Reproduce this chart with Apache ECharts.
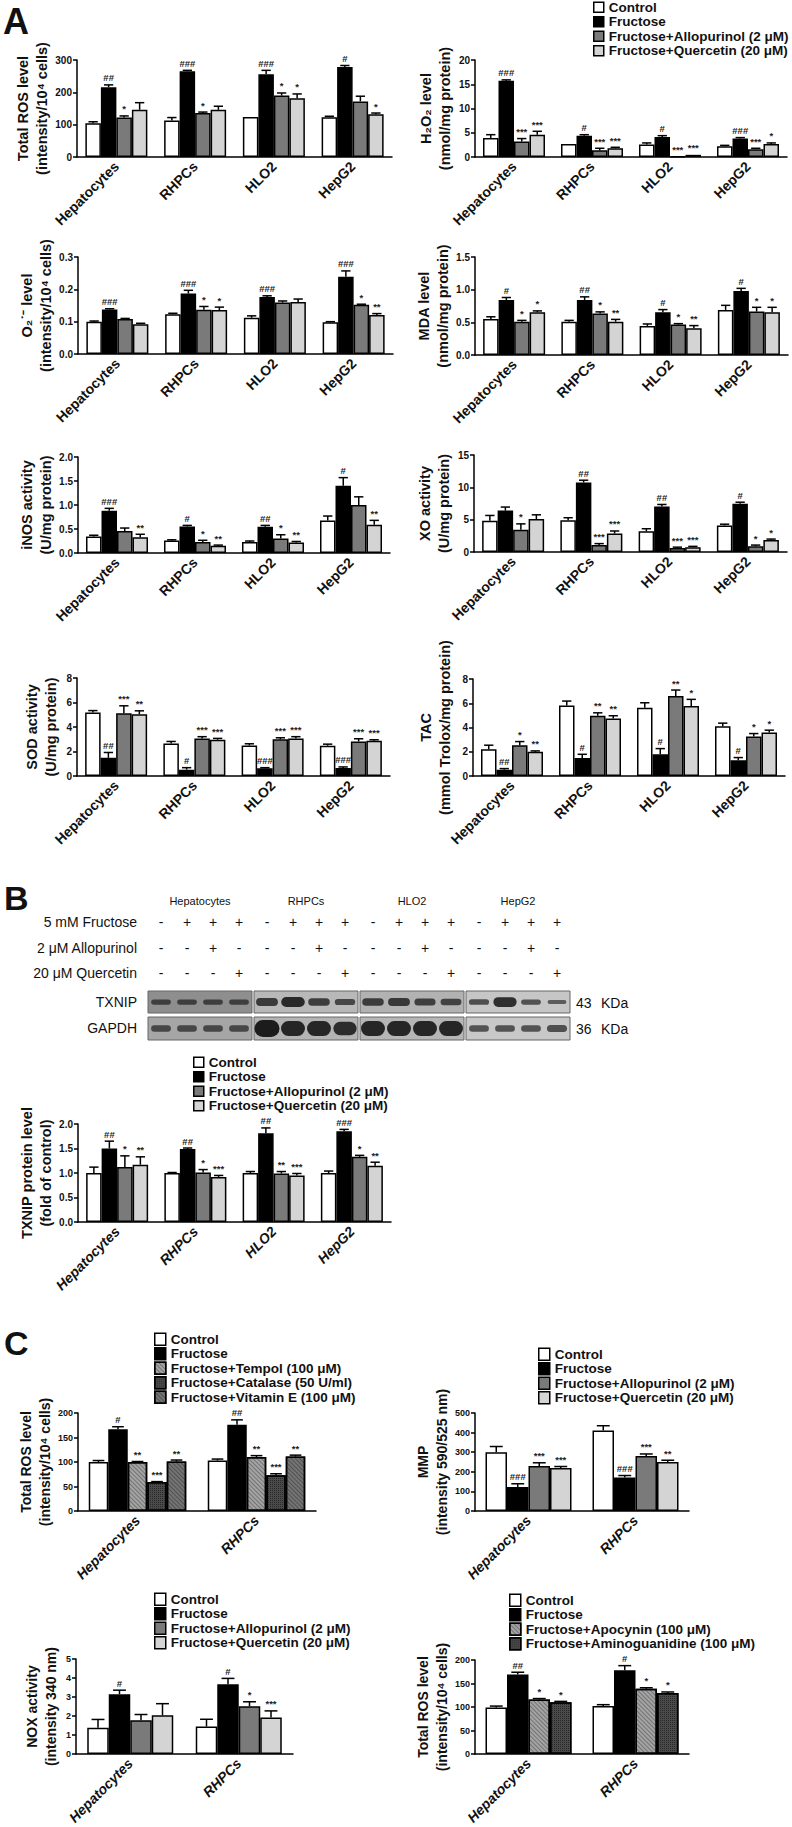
<!DOCTYPE html>
<html>
<head>
<meta charset="utf-8">
<script src="https://cdn.jsdelivr.net/npm/echarts@6/dist/echarts.min.js"></script>
<style>
  html, body { margin: 0; padding: 0; background: #fff; }
  #fig { width: 792px; height: 1827px; }
</style>
</head>
<body>
<div id="fig"></div>
<script>
// ---- categories / groups ----
const cellsA = ['Hepatocytes', 'RHPCs', 'HLO2', 'HepG2'];
const cellsC = ['Hepatocytes', 'RHPCs'];
const groupsA = ['Control', 'Fructose', 'Fructose+Allopurinol (2 μM)', 'Fructose+Quercetin (20 μM)'];
const groupsC1 = ['Control', 'Fructose', 'Fructose+Tempol (100 μM)', 'Fructose+Catalase (50 U/ml)', 'Fructose+Vitamin E (100 μM)'];
const groupsC4 = ['Control', 'Fructose', 'Fructose+Apocynin (100 μM)', 'Fructose+Aminoguanidine (100 μM)'];

// ---- A: total ROS ----  (rows = groups, cols = cells)
const rosAxis = [0, 300, 100];
const rosMean = [[104, 113, 124, 123], [216, 265, 256, 278], [122, 136, 190, 172], [146, 146, 182, 132]];
const rosErr = [[5, 9, 0, 3], [7, 3, 12, 5], [5, 3, 8, 16], [22, 11, 13, 4]];
const rosSig = [['', '', '', ''], ['##', '###', '###', '#'], ['*', '*', '*', ''], ['', '', '*', '*']];

// ---- A: H2O2 ----
const h2o2Axis = [0, 20, 5];
const h2o2Mean = [[3.9, 2.7, 2.6, 2.2], [15.7, 4.4, 4.1, 3.8], [3.2, 1.4, 0.15, 1.6], [4.6, 1.8, 0.45, 2.7]];
const h2o2Err = [[0.7, 0, 0.3, 0.2], [0.2, 0.2, 0.3, 0.2], [0.6, 0.4, 0, 0.2], [0.7, 0.2, 0, 0.2]];
const h2o2Sig = [['', '', '', ''], ['###', '#', '#', '###'], ['***', '***', '***', '***'], ['***', '***', '***', '*']];

// ---- A: superoxide ----
const o2Axis = [0, 0.3, 0.1];
const o2Mean = [[0.100, 0.123, 0.112, 0.098], [0.138, 0.187, 0.176, 0.239], [0.108, 0.137, 0.159, 0.152], [0.092, 0.136, 0.161, 0.121]];
const o2Err = [[0.002, 0.003, 0.006, 0.002], [0.002, 0.010, 0.004, 0.018], [0.002, 0.010, 0.005, 0.002], [0.003, 0.009, 0.009, 0.004]];
const o2Sig = [['', '', '', ''], ['###', '###', '###', '###'], ['', '*', '', '*'], ['', '*', '', '**']];

// ---- A: MDA ----
const mdaAxis = [0, 1.5, 0.5];
const mdaMean = [[0.55, 0.51, 0.445, 0.69], [0.84, 0.84, 0.655, 0.98], [0.51, 0.635, 0.465, 0.665], [0.655, 0.51, 0.41, 0.655]];
const mdaErr = [[0.035, 0.02, 0.03, 0.07], [0.04, 0.05, 0.04, 0.04], [0.02, 0.025, 0.015, 0.065], [0.02, 0.035, 0.04, 0.075]];
const mdaSig = [['', '', '', ''], ['#', '##', '#', '#'], ['*', '*', '*', '*'], ['*', '**', '**', '*']];

// ---- A: iNOS ----
const inosAxis = [0, 2, 0.5];
const inosMean = [[0.345, 0.26, 0.23, 0.675], [0.88, 0.55, 0.545, 1.40], [0.46, 0.23, 0.30, 1.00], [0.33, 0.15, 0.22, 0.59]];
const inosErr = [[0.025, 0.015, 0.02, 0.095], [0.05, 0.025, 0.03, 0.17], [0.06, 0.035, 0.08, 0.17], [0.06, 0.015, 0.02, 0.09]];
const inosSig = [['', '', '', ''], ['###', '#', '##', '#'], ['', '*', '*', ''], ['**', '**', '**', '**']];

// ---- A: XO ----
const xoAxis = [0, 15, 5];
const xoMean = [[4.85, 4.9, 3.2, 4.1], [6.4, 10.75, 7.05, 7.45], [3.45, 1.1, 0.6, 0.87], [5.1, 2.85, 0.72, 1.85]];
const xoErr = [[0.8, 0.4, 0.4, 0.2], [0.55, 0.35, 0.3, 0.25], [0.9, 0.2, 0.15, 0.2], [0.65, 0.4, 0.15, 0.15]];
const xoSig = [['', '', '', ''], ['', '##', '##', '#'], ['*', '***', '***', '*'], ['', '***', '***', '*']];

// ---- A: SOD ----
const sodAxis = [0, 8, 2];
const sodMean = [[5.18, 2.66, 2.49, 2.47], [1.48, 0.52, 0.63, 0.66], [5.12, 3.07, 2.99, 2.82], [5.04, 2.96, 3.07, 2.88]];
const sodErr = [[0.16, 0.16, 0.14, 0.13], [0.44, 0.16, 0.05, 0.08], [0.61, 0.14, 0.13, 0.22], [0.28, 0.11, 0.14, 0.08]];
const sodSig = [['', '', '', ''], ['##', '#', '###', '###'], ['***', '***', '***', '***'], ['**', '***', '***', '***']];

// ---- A: TAC ----
const tacAxis = [0, 8, 2];
const tacMean = [[2.2, 5.82, 5.63, 4.11], [0.52, 1.49, 1.79, 1.3], [2.54, 4.97, 6.59, 3.26], [2.01, 4.74, 5.77, 3.59]];
const tacErr = [[0.34, 0.36, 0.41, 0.25], [0.09, 0.3, 0.47, 0.22], [0.3, 0.24, 0.5, 0.24], [0.06, 0.23, 0.55, 0.19]];
const tacSig = [['', '', '', ''], ['##', '#', '#', '#'], ['*', '**', '**', '*'], ['**', '**', '*', '*']];

// ---- B: TXNIP densitometry ----
const txnipAxis = [0, 2, 0.5];
const txnipMean = [[1.0, 1.0, 1.0, 1.0], [1.50, 1.49, 1.81, 1.85], [1.12, 1.01, 0.99, 1.33], [1.17, 0.92, 0.95, 1.15]];
const txnipErr = [[0.12, 0.01, 0.03, 0.04], [0.15, 0.02, 0.11, 0.04], [0.23, 0.06, 0.04, 0.03], [0.16, 0.03, 0.04, 0.07]];
const txnipSig = [['', '', '', ''], ['##', '##', '##', '###'], ['*', '*', '**', '*'], ['**', '***', '***', '**']];

// blot lane treatments and rough band strength (per cell line, per lane)
const fructoseLane = ['-', '+', '+', '+'];
const allopurinolLane = ['-', '-', '+', '-'];
const quercetinLane = ['-', '-', '-', '+'];
const txnipBand = [[0.25, 0.25, 0.25, 0.25], [0.55, 0.8, 0.5, 0.35], [0.5, 0.55, 0.45, 0.4], [0.3, 0.75, 0.25, 0.12]];
const gapdhBand = [[0.25, 0.25, 0.25, 0.25], [1.0, 0.85, 0.85, 0.75], [0.85, 0.85, 0.85, 0.85], [0.25, 0.25, 0.25, 0.3]];

// ---- C ----
const ros2Axis = [0, 200, 50];
const ros2Mean = [[100, 103], [167, 176], [100, 110], [59, 73], [101, 111]];
const ros2Err = [[3, 3], [5, 10], [1, 3], [1, 3], [3, 3]];
const ros2Sig = [['', ''], ['#', '##'], ['**', '**'], ['***', '***'], ['**', '**']];

const mmpAxis = [0, 500, 100];
const mmpMean = [[300, 411], [122, 171], [230, 281], [220, 250]];
const mmpErr = [[29, 24], [17, 10], [16, 10], [7, 9]];
const mmpSig = [['', ''], ['###', '###'], ['***', '***'], ['***', '**']];

const noxAxis = [0, 5, 1];
const noxMean = [[1.38, 1.45], [3.15, 3.67], [1.78, 2.51], [2.04, 1.92]];
const noxErr = [[0.44, 0.38], [0.21, 0.31], [0.3, 0.24], [0.61, 0.35]];
const noxSig = [['', ''], ['#', '#'], ['', '*'], ['', '***']];

const ros3Axis = [0, 200, 50];
const ros3Mean = [[99, 102], [169, 178], [116, 139], [110, 130]];
const ros3Err = [[3, 3], [5, 10], [2, 2], [2, 2]];
const ros3Sig = [['', ''], ['##', '#'], ['*', '*'], ['*', '*']];

// ---- styles ----
const fam = '"Liberation Sans", Arial, Helvetica, sans-serif';
const colorsA = ['#ffffff', '#000000', '#7a7a7a', '#d4d4d4'];
const colorsC1 = ['#ffffff', '#000000', '#a4a4a4', '#4a4a4a', '#747474'];
const colorsC4 = ['#ffffff', '#000000', '#a4a4a4', '#4a4a4a'];
const hatch = { symbol: 'rect', symbolSize: 1, dashArrayX: [1, 0], dashArrayY: [1, 2], rotation: Math.PI / 4, color: 'rgba(0,0,0,0.3)' };
const cross = { symbol: 'rect', symbolSize: 1, dashArrayX: [1, 1], dashArrayY: [1, 1], color: 'rgba(0,0,0,0.45)' };
const decalsC1 = [null, null, hatch, cross, hatch];
const decalsC4 = [null, null, hatch, cross];

const option = {
  animation: false,
  backgroundColor: '#fff',
  grid: [], xAxis: [], yAxis: [], series: [], legend: [],
  graphic: { elements: [] }
};

function errRender(n, bw, marks) {
  return function (params, api) {
    const cat = api.value(0), k = api.value(1), v = api.value(2), e = api.value(3);
    const p0 = api.coord([cat, v]);
    const p1 = api.coord([cat, v + e]);
    const x = p0[0] + (k - (n - 1) / 2) * bw;
    const kids = [];
    if (e > 0) {
      kids.push({ type: 'line', shape: { x1: x, y1: p0[1], x2: x, y2: p1[1] }, style: { stroke: '#000', lineWidth: 1.5 } });
      kids.push({ type: 'line', shape: { x1: x - bw * 0.3, y1: p1[1], x2: x + bw * 0.3, y2: p1[1] }, style: { stroke: '#000', lineWidth: 1.5 } });
    }
    const m = marks[params.dataIndex];
    if (m) {
      kids.push({ type: 'text', x: x, y: p1[1] - 2,
        style: { text: m, fill: '#222', font: 'bold 9.5px ' + fam, align: 'center', verticalAlign: 'bottom' } });
    }
    return { type: 'group', children: kids };
  };
}

function addPanel(p) {
  const gi = option.grid.length;
  const n = p.groups.length;
  option.grid.push({ left: p.box[0], top: p.box[1], width: p.box[2], height: p.box[3] });
  option.xAxis.push({
    gridIndex: gi, type: 'category', data: p.cats,
    axisLine: { lineStyle: { color: '#000', width: 1.5 } },
    axisTick: { show: false },
    axisLabel: { interval: 0, rotate: 45, margin: 7, color: '#111', fontFamily: fam, fontSize: 14,
      fontWeight: 'bold', fontStyle: p.italic ? 'italic' : 'normal' }
  });
  option.yAxis.push({
    gridIndex: gi, type: 'value', min: p.axis[0], max: p.axis[1], interval: p.axis[2],
    axisLine: { show: true, lineStyle: { color: '#000', width: 1.5 } },
    axisTick: { show: true, length: 4, lineStyle: { color: '#000', width: 1.5 } },
    splitLine: { show: false },
    axisLabel: { margin: 5, color: '#111', fontFamily: fam, fontSize: p.tick, fontWeight: 'bold',
      formatter: v => v.toFixed(p.dec) },
    name: p.title.join('\n'), nameLocation: 'middle', nameRotate: 90, nameGap: p.gap,
    nameTextStyle: { fontFamily: fam, fontSize: p.titleSize, fontWeight: 'bold', color: '#111', lineHeight: 19 }
  });
  p.groups.forEach((g, k) => {
    const itemStyle = { color: p.colors[k], borderColor: '#000', borderWidth: 1.5 };
    if (p.decals && p.decals[k]) itemStyle.decal = p.decals[k];
    option.series.push({
      type: 'bar', name: g, xAxisIndex: gi, yAxisIndex: gi, data: p.mean[k],
      barWidth: p.bw, barGap: '0%', silent: true, itemStyle: itemStyle
    });
  });
  const errData = [], marks = [];
  p.mean.forEach((row, k) => row.forEach((v, c) => {
    errData.push([c, k, v, p.err[k][c]]);
    marks.push(p.sig[k][c]);
  }));
  option.series.push({
    type: 'custom', xAxisIndex: gi, yAxisIndex: gi, data: errData,
    encode: { x: 0, y: 2 }, clip: false, silent: true, z: 3,
    renderItem: errRender(n, p.bw, marks)
  });
}

const baseA = { cats: cellsA, groups: groupsA, colors: colorsA, bw: 15.5, tick: 10, titleSize: 14.5, dec: 0, italic: false };
const baseC = { cats: cellsC, groups: groupsA, colors: colorsA, bw: 21.5, tick: 9, titleSize: 14, dec: 0, italic: true };

[
  Object.assign({}, baseA, { box: [77, 60, 315, 97], mean: rosMean, err: rosErr, sig: rosSig, axis: rosAxis, gap: 20,
    title: ['Total ROS level', '(intensity/10⁴ cells)'] }),
  Object.assign({}, baseA, { box: [475, 60, 312, 97], mean: h2o2Mean, err: h2o2Err, sig: h2o2Sig, axis: h2o2Axis, gap: 17,
    title: ['H₂O₂ level', '(nmol/mg protein)'] }),
  Object.assign({}, baseA, { box: [78, 257, 315, 97], mean: o2Mean, err: o2Err, sig: o2Sig, axis: o2Axis, gap: 18, dec: 1,
    title: ['O₂˙⁻ level', '(intensity/10⁴ cells)'] }),
  Object.assign({}, baseA, { box: [475, 257, 313, 98], mean: mdaMean, err: mdaErr, sig: mdaSig, axis: mdaAxis, gap: 19, dec: 1,
    title: ['MDA level', '(nmol/mg protein)'] }),
  Object.assign({}, baseA, { box: [78, 457, 312, 96], mean: inosMean, err: inosErr, sig: inosSig, axis: inosAxis, gap: 18, dec: 1,
    title: ['iNOS activity', '(U/mg protein)'] }),
  Object.assign({}, baseA, { box: [474, 455, 313, 97], mean: xoMean, err: xoErr, sig: xoSig, axis: xoAxis, gap: 16,
    title: ['XO activity', '(U/mg protein)'] }),
  Object.assign({}, baseA, { box: [77, 678, 313, 98], mean: sodMean, err: sodErr, sig: sodSig, axis: sodAxis, gap: 17,
    title: ['SOD activity', '(U/mg protein)'] }),
  Object.assign({}, baseA, { box: [473, 679, 312, 97], mean: tacMean, err: tacErr, sig: tacSig, axis: tacAxis, gap: 19,
    title: ['TAC', '(mmol Trolox/mg protein)'] }),
  Object.assign({}, baseA, { box: [78, 1124, 313, 98], mean: txnipMean, err: txnipErr, sig: txnipSig, axis: txnipAxis, gap: 20,
    dec: 1, tick: 10, italic: true, title: ['TXNIP protein level', '(fold of control)'] }),
  Object.assign({}, baseC, { box: [78, 1413, 238, 98], groups: groupsC1, colors: colorsC1, decals: decalsC1, bw: 19.5,
    mean: ros2Mean, err: ros2Err, sig: ros2Sig, axis: ros2Axis, gap: 20, title: ['Total ROS level', '(intensity/10⁴ cells)'] }),
  Object.assign({}, baseC, { box: [475, 1413, 214, 98], mean: mmpMean, err: mmpErr, sig: mmpSig, axis: mmpAxis, gap: 21,
    title: ['MMP', '(intensity 590/525 nm)'] }),
  Object.assign({}, baseC, { box: [76, 1659, 217, 97], mean: noxMean, err: noxErr, sig: noxSig, axis: noxAxis, gap: 16,
    title: ['NOX activity', '(intensity 340 nm)'] }),
  Object.assign({}, baseC, { box: [475, 1660, 214, 96], groups: groupsC4, colors: colorsC4, decals: decalsC4,
    mean: ros3Mean, err: ros3Err, sig: ros3Sig, axis: ros3Axis, gap: 20, title: ['Total ROS level', '(intensity/10⁴ cells)'] })
].forEach(addPanel);

// legends
function addLegend(names, left, top, iw, ih) {
  option.legend.push({
    data: names, orient: 'vertical', left: left, top: top, padding: 0,
    itemWidth: iw, itemHeight: ih, itemGap: 0, icon: 'rect', selectedMode: false,
    itemStyle: { borderColor: '#000', borderWidth: 1.5 },
    textStyle: { fontFamily: fam, fontSize: 13.5, fontWeight: 'bold', color: '#111', lineHeight: 14.5 }
  });
}
addLegend(groupsA, 593, 0, 10, 10);
addLegend(groupsA, 193, 1055, 10, 10);
addLegend(groupsC1, 154, 1332, 11, 12);
addLegend(groupsA, 538, 1347, 11, 12);
addLegend(groupsA, 154, 1592, 11, 12);
addLegend(groupsC4, 509, 1593, 11, 12);

// panel letters, blot picture and its labels
const els = option.graphic.elements;
function txt(x, y, s, font, align) {
  els.push({ type: 'text', x: x, y: y, silent: true,
    style: { text: s, font: font, fill: '#111', align: align || 'left', verticalAlign: 'middle',
      textAlign: align || 'left', textVerticalAlign: 'middle' } });
}
txt(3, 21, 'A', 'bold 36px ' + fam);
txt(4, 898, 'B', 'bold 34px ' + fam);
txt(4, 1343, 'C', 'bold 34px ' + fam);

const panelX = [148, 254, 360, 466];
const panelW = 104;
cellsA.forEach((c, p) => txt(panelX[p] + panelW / 2, 901, c, '11px ' + fam, 'center'));
const rowFont = '14px ' + fam;
[['5 mM Fructose', 922, fructoseLane], ['2 μM Allopurinol', 948, allopurinolLane], ['20 μM Quercetin', 973, quercetinLane]]
  .forEach(r => {
    txt(137, r[1], r[0], rowFont, 'right');
    panelX.forEach(x0 => r[2].forEach((s, j) => txt(x0 + 13 + 26 * j, r[1], s, rowFont, 'center')));
  });
txt(137, 1002, 'TXNIP', rowFont, 'right');
txt(137, 1028, 'GAPDH', rowFont, 'right');
txt(576, 1003, '43', rowFont);
txt(601, 1003, 'KDa', rowFont);
txt(576, 1029, '36', rowFont);
txt(601, 1029, 'KDa', rowFont);

function blotRow(y, h, bgs, bands, maxH) {
  panelX.forEach((x0, p) => {
    els.push({ type: 'rect', silent: true, shape: { x: x0, y: y, width: panelW, height: h },
      style: { fill: bgs[p], stroke: '#666', lineWidth: 1 } });
    bands[p].forEach((s, j) => {
      const bh = 3 + s * maxH;
      const bw = 18 + s * 7;
      els.push({ type: 'rect', silent: true,
        shape: { x: x0 + 13 + 26 * j - bw / 2, y: y + h / 2 - bh / 2, width: bw, height: bh, r: bh / 2 },
        style: { fill: '#141414', opacity: 0.55 + 0.4 * s } });
    });
  });
}
blotRow(991, 22, ['#8e8e8e', '#b8b8b8', '#b2b2b2', '#c6c6c6'], txnipBand, 9);
blotRow(1017, 23, ['#a6a6a6', '#b4b4b4', '#b6b6b6', '#c8c8c8'], gapdhBand, 14);

const chart = echarts.init(document.getElementById('fig'), null, { renderer: 'svg' });
chart.setOption(option);
</script>
</body>
</html>
